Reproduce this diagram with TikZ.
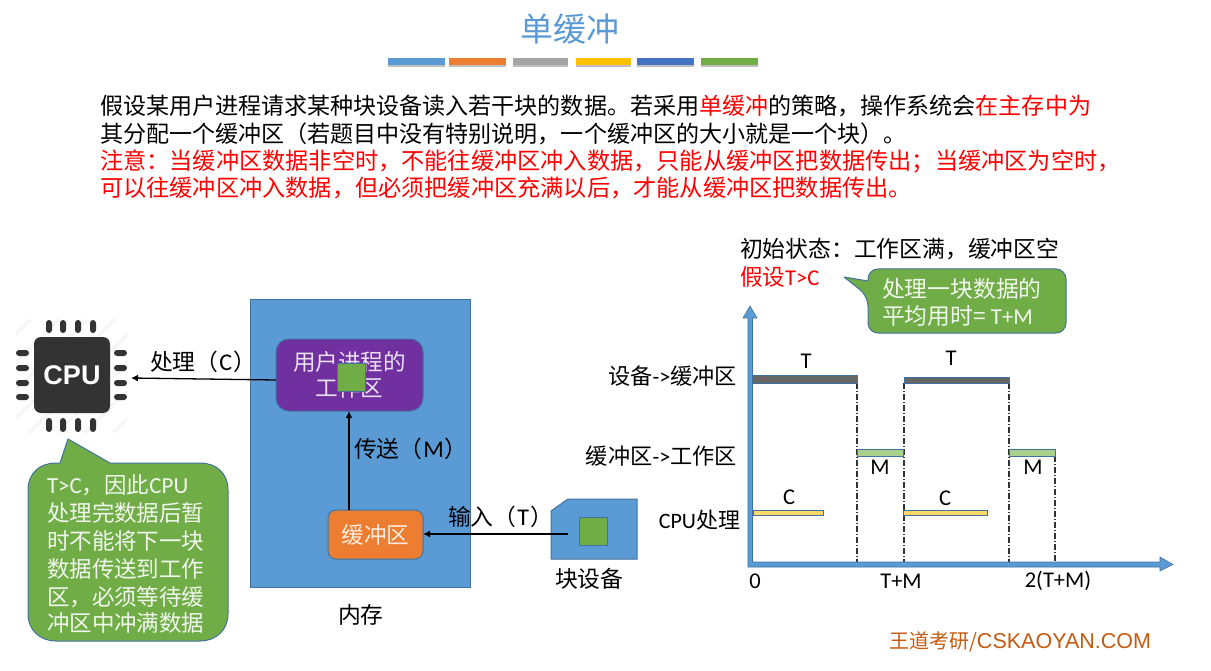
\documentclass[tikz,border=0pt]{standalone}
\usepackage{xcolor}
\usepackage{fontspec}
\setmainfont{Carlito}
\newfontfamily\cjk{Noto Sans CJK SC}
\newfontfamily\lib{Liberation Sans}
\usetikzlibrary{positioning,arrows.meta,calc}
\definecolor{memblue}{HTML}{5B9BD5}
\definecolor{edgeblue}{HTML}{41719C}
\definecolor{barorange}{HTML}{ED7D31}
\definecolor{bargray}{HTML}{A5A5A5}
\definecolor{baryellow}{HTML}{FFC000}
\definecolor{bardeep}{HTML}{4472C4}
\definecolor{bargreen}{HTML}{70AD47}
\definecolor{userpurple}{HTML}{7030A0}
\definecolor{chipdark}{HTML}{333333}
\definecolor{barT}{HTML}{666666}
\definecolor{barM}{HTML}{A9D18E}
\definecolor{barC}{HTML}{FFD966}
\definecolor{footbrown}{HTML}{C55A11}
\newcommand{\px}[1]{\fontsize{#1}{#1}\selectfont}
\newcommand{\inparen}[1]{（\kern1pt{\px{24}\rmfamily #1}\kern1pt）}
\tikzset{
  lbl/.style={inner sep=0pt, outer sep=0pt, anchor=west, font=\px{22.8}\cjk},
  redlbl/.style={lbl, text=red, font=\px{23.2}\cjk},
  latin/.style={inner sep=0pt, outer sep=0pt, font=\px{22.5}},
  boxshape/.style={draw=edgeblue, line width=1pt, inner sep=0pt, outer sep=0pt},
  greensq/.style={boxshape, fill=bargreen, minimum width=28pt, minimum height=28pt},
  flowline/.style={line width=1.3pt, -{Latex[length=7pt,width=7pt]}},
  bar/.style={draw=edgeblue, line width=1pt},
  guide/.style={black!80, line width=1.2pt, dash pattern=on 6pt off 2pt on 1pt off 2pt},
  callout/.style={fill=bargreen, draw=edgeblue, line width=1pt, line join=round},
  axisarrow/.style={fill=memblue, draw=edgeblue, line width=0.6pt},
}
\begin{document}
\begin{tikzpicture}[x=1pt, y=-1pt]
  \useasboundingbox (0,0) rectangle (1211,671);

  \node[inner sep=0pt, text=memblue, font=\px{33}\cjk] (title) at (570,29) {单缓冲};
  \foreach \xa/\xb/\col in {388/445/memblue,449/506/barorange,513/568/bargray,576/631/baryellow,637/694/bardeep,701/758/bargreen} {
    \fill[black!25] (\xa,60) rectangle (\xb,67);
    \fill[\col] (\xa,58) rectangle (\xb,65);
  }

  \node[lbl, font=\px{23.05}\cjk] (introa) at (100,106) {假设某用户进程请求某种块设备读入若干块的数据。若采用\textcolor{red}{单缓冲}的策略，操作系统会\textcolor{red}{在主存中为}};
  \node[lbl, font=\px{23.05}\cjk] (introb) at (100,134) {其分配一个缓冲区（若题目中没有特别说明，一个缓冲区的大小就是一个块）。};
  \node[redlbl] (notea) at (100,162) {注意：当缓冲区数据非空时，不能往缓冲区冲入数据，只能从缓冲区把数据传出；当缓冲区为空时，};
  \node[redlbl] (noteb) at (100,188) {可以往缓冲区冲入数据，但必须把缓冲区充满以后，才能从缓冲区把数据传出。};

  % chip
  \begin{scope}
    \clip (16,320) rectangle (127,432);
    \foreach \d in {350,378,...,560}
      \draw[black!4, line width=3pt] (\d-440,440) -- (\d-310,310);
  \end{scope}
  \foreach \c in {49,63,78,93} {
    \fill[chipdark, rounded corners=3pt] (\c-3,320) rectangle (\c+3,333);
    \fill[chipdark, rounded corners=3pt] (\c-3,418) rectangle (\c+3,432);
  }
  \foreach \c in {353,368,383,397} {
    \fill[chipdark, rounded corners=3pt] (16,\c-3) rectangle (29,\c+3);
    \fill[chipdark, rounded corners=3pt] (114,\c-3) rectangle (127,\c+3);
  }
  \node[fill=chipdark, rounded corners=7pt, minimum width=76pt, minimum height=76pt, inner sep=0pt, text=white, font=\px{27}\lib\bfseries] (cpu) at (72,375) {\raisebox{-1.5pt}{CPU}};
  \coordinate (cpuport) at (131,378);

  % memory
  \node[boxshape, fill=memblue, minimum width=220pt, minimum height=287pt] (mem) at (360,443.5) {};
  \node[boxshape, fill=userpurple, rounded corners=13pt, minimum width=147pt, minimum height=72pt, text=white!85!userpurple, align=center, font=\px{22.6}\cjk] (user) at (349.5,375) {用户进程的\\[3pt]工作区};
  \node[greensq] (usersq) at (351,377) {};
  \node[boxshape, fill=barorange, rounded corners=8pt, minimum width=95pt, minimum height=49pt, text=white!85!barorange, font=\px{22.6}\cjk] (buf) at (375.5,534.5) {缓冲区};
  \node[lbl] (memlbl) at (338,615) {内存};

  % device
  \draw[boxshape, fill=memblue] (551,511) -- (568,499) -- (637,499) -- (637,559) -- (551,559) -- cycle;
  \node[greensq] (devsq) at (593.5,531) {};
  \coordinate (devport) at (568,534);
  \node[lbl] (devlbl) at (555,579) {块设备};

  \draw[flowline] ([yshift=-5pt]user.west) -- (cpuport);
  \draw[flowline] (buf.north -| 349,0) -- (user.south -| 349,0);
  \draw[flowline] (devport) -- (buf.east |- devport);
  \node[lbl] (proclbl) at (150,362) {处理\inparen{C}};
  \node[lbl] (sendlbl) at (354,449) {传送\inparen{M}};
  \node[lbl] (inlbl) at (448,517) {输入\inparen{T}};

  % left note
  \draw[callout] (28,490) .. controls (28,473) and (40,463) .. (56,463) -- (60,463) -- (68,439) -- (110,463) -- (200,463) .. controls (216,463) and (228,473) .. (228,490) -- (228,614) .. controls (228,630) and (216,641) .. (200,641) -- (56,641) .. controls (40,641) and (28,630) .. (28,614) -- cycle;
  \foreach \n/\yy/\txt in {a/485/{{\px{23}\rmfamily T>C}，因此{\px{23}\rmfamily CPU}},b/513/处理完数据后暂,c/541/时不能将下一块,d/569/数据传送到工作,e/597/区，必须等待缓,f/623/冲区中冲满数据}
    \node[lbl, text=white!90!bargreen, font=\px{22.5}\cjk] (left\n) at (47,\yy) {\txt};

  % chart
  \node[lbl] (startlbl) at (740,249) {初始状态：工作区满，缓冲区空};
  \node[redlbl, font=\px{22.6}\cjk] (assume) at (740,277) {假设{\rmfamily T>C}};
  \draw[callout, rounded corners=10pt] (868,281) -- (868,269) -- (1066,269) -- (1066,333) -- (868,333) -- (868,296) [sharp corners] -- (844,277) -- cycle;
  \node[lbl, text=white!90!bargreen] (rcalla) at (882,289) {处理一块数据的};
  \node[lbl, text=white!90!bargreen] (rcallb) at (882,316) {平均用时= {\rmfamily T+M}};

  \foreach \c/\ya in {857/383,904/383,1009/383,1055/456}
    \draw[guide] (\c,\ya) -- (\c,564);

  \draw[axisarrow] (748,567) -- (748,318) -- (743,318) -- (750,306) -- (757,318) -- (752.5,318) -- (752.5,562) -- (1160,562) -- (1160,557) -- (1173,564.5) -- (1160,571) -- (1160,567) -- cycle;

  \draw[bar, fill=barT] (753,375) rectangle (857,383);
  \draw[bar, fill=barT] (904,377) rectangle (1009,383);
  \draw[bar, fill=barM] (857,449) rectangle (903,456);
  \draw[bar, fill=barM] (1009,449) rectangle (1055,456);
  \draw[bar, fill=barC] (753,510.5) rectangle (823,515.5);
  \draw[bar, fill=barC] (903,510.5) rectangle (987,515.5);

  \foreach \n/\xx/\yy/\txt in {ta/806/361/T,tb/951/358/T,ma/880/467/M,mb/1033/467/M,ca/789/497/C,cb/945/498/C,za/755/581/0,zb/901/581/T+M,zc/1058/581/2(T+M)}
    \node[latin] (\n) at (\xx,\yy) {\txt};

  \node[lbl, anchor=east, font=\px{22.2}\cjk] (rowa) at (737,376) {设备{\rmfamily ->}缓冲区};
  \node[lbl, anchor=east, font=\px{22.2}\cjk] (rowb) at (737,456) {缓冲区{\rmfamily ->}工作区};
  \node[lbl, anchor=east, font=\px{22}\cjk] (rowc) at (740,520) {{\rmfamily CPU}处理};

  \node[lbl, anchor=east, text=footbrown, font=\px{20}\cjk] (foot) at (1151,642) {王道考研/{\px{21.5}\lib CSKAOYAN.COM}};
\end{tikzpicture}
\end{document}
